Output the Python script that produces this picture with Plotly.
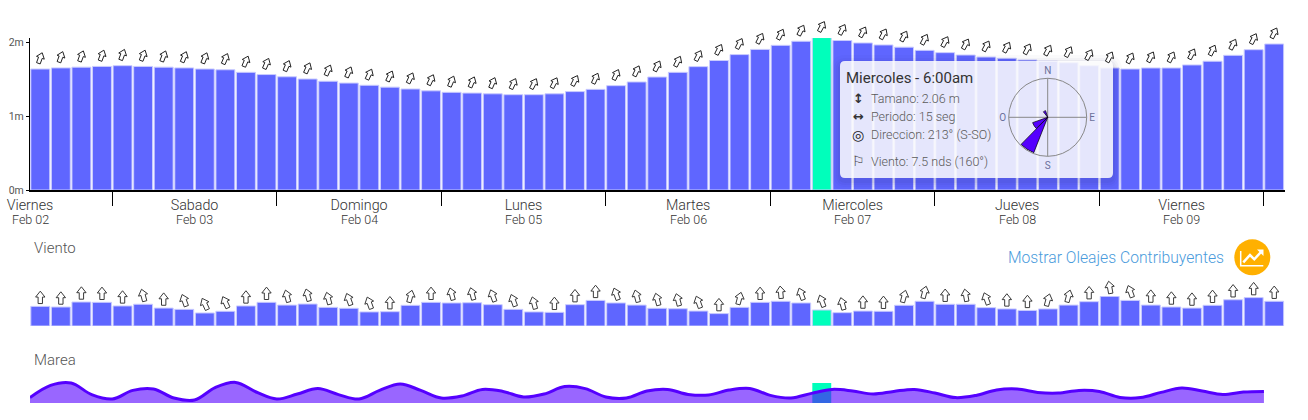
import math
import plotly.graph_objects as go

W, H = 1308, 420
SELECTED = 38
BAR = "#5f66ff"
HIGHLIGHT = "#00ffbb"
TEXT = "#555555"
FONT = "Roboto"

wave_height = [1.635, 1.65, 1.66, 1.67, 1.68, 1.67, 1.66, 1.65, 1.635, 1.625,
               1.59, 1.56, 1.53, 1.50, 1.47, 1.445, 1.415, 1.39, 1.365, 1.34,
               1.32, 1.31, 1.30, 1.288, 1.288, 1.30, 1.33, 1.36, 1.41, 1.46,
               1.527, 1.59, 1.667, 1.75, 1.83, 1.90, 1.955, 2.01, 2.06, 2.02,
               1.987, 1.96, 1.93, 1.887, 1.856, 1.824, 1.797, 1.78, 1.757, 1.74,
               1.72, 1.68, 1.649, 1.635, 1.649, 1.649, 1.69, 1.74, 1.82, 1.896,
               1.973]
wave_dir = [200, 200, 200, 200, 200, 201, 201, 202, 202, 203,
            203, 203, 203, 204, 204, 204, 205, 205, 205, 205,
            203, 203, 203, 205, 207, 207, 207, 205, 205, 205,
            207, 207, 207, 207, 207, 207, 207, 207, 208, 208,
            208, 208, 208, 208, 208, 208, 208, 208, 208, 208,
            208, 208, 207, 207, 207, 207, 207, 207, 207, 207,
            207]
wind_speed = [9.2, 8.9, 11.25, 11.1, 9.4, 10.2, 8.4, 7.8, 6.1, 6.9,
              9.4, 11.1, 9.8, 10.3, 8.75, 8.3, 6.6, 6.7, 9.7, 11.1,
              10.8, 10.9, 10.0, 7.8, 6.6, 6.4, 10.0, 12.0, 10.8, 9.8,
              8.3, 8.1, 7.0, 5.8, 8.75, 11.1, 11.6, 10.8, 7.5, 6.25,
              7.0, 6.9, 9.7, 11.6, 10.2, 10.2, 8.6, 8.0, 7.3, 8.0,
              9.8, 11.4, 13.9, 12.0, 9.8, 8.9, 8.4, 9.7, 12.3, 13.3,
              11.6]
wind_dir = [180, 180, 180, 180, 180, 165, 180, 160, 155, 155,
            180, 180, 165, 165, 165, 160, 160, 180, 195, 180,
            165, 165, 160, 160, 165, 180, 180, 180, 160, 165,
            165, 165, 160, 180, 195, 180, 175, 160, 160, 165,
            180, 180, 195, 195, 180, 170, 160, 180, 180, 195,
            195, 180, 170, 160, 180, 180, 180, 180, 180, 180,
            180]
tide = [0.27, 0.88, 1.00, 0.42, 0.20, 0.63, 0.70, 0.25, 0.15, 0.77,
        1.03, 0.55, 0.20, 0.45, 0.72, 0.42, 0.20, 0.63, 0.95, 0.63,
        0.25, 0.35, 0.68, 0.58, 0.30, 0.45, 0.82, 0.72, 0.30, 0.25,
        0.60, 0.68, 0.43, 0.40, 0.65, 0.73, 0.38, 0.25, 0.48, 0.68,
        0.60, 0.45, 0.58, 0.68, 0.50, 0.27, 0.38, 0.65, 0.70, 0.53,
        0.50, 0.63, 0.58, 0.28, 0.27, 0.53, 0.75, 0.60, 0.43, 0.55,
        0.58]
day_names = ["Viernes", "Sabado", "Domingo", "Lunes", "Martes", "Miercoles", "Jueves", "Viernes"]
day_dates = ["Feb 02", "Feb 03", "Feb 04", "Feb 05", "Feb 06", "Feb 07", "Feb 08", "Feb 09"]
day_centers = [-0.5, 7.5, 15.5, 23.5, 31.5, 39.5, 47.5, 55.5]
rose_theta = [213, 238, 332]
rose_width = [23, 25, 20]
rose_r = [38, 16, 7]

idx = list(range(len(wave_height)))
colors = [HIGHLIGHT if i == SELECTED else BAR for i in idx]


def dom(top, bottom):
    return [1 - bottom / H, 1 - top / H]


fig = go.Figure()
edge = dict(color="#c9cbff", width=1)
fig.add_bar(x=idx, y=wave_height, marker=dict(color=colors, line=edge), width=0.92,
            xaxis="x", yaxis="y", hoverinfo="skip")
fig.add_bar(x=idx, y=wind_speed, marker=dict(color=colors, line=edge), width=0.92,
            xaxis="x2", yaxis="y2", hoverinfo="skip")
fig.add_bar(x=[SELECTED], y=[1.0], marker=dict(color=HIGHLIGHT, line=dict(width=0)), width=0.92,
            xaxis="x3", yaxis="y3", hoverinfo="skip")
fig.add_scatter(x=[i - 0.5 for i in idx], y=tide, mode="lines", fill="tozeroy",
                fillcolor="rgba(85,0,255,0.6)", line=dict(color="#5500ff", width=3, shape="spline"),
                xaxis="x3", yaxis="y3", hoverinfo="skip")


def rounded(x0, y0, x1, y1, r):
    return (f"M{x0 + r},{y0} L{x1 - r},{y0} Q{x1},{y0} {x1},{y0 + r} L{x1},{y1 - r} Q{x1},{y1} {x1 - r},{y1} "
            f"L{x0 + r},{y1} Q{x0},{y1} {x0},{y1 - r} L{x0},{y0 + r} Q{x0},{y0} {x0 + r},{y0} Z")


# Tooltip sits in a page-sized helper subplot so the compass can draw over it.
shapes = []
for grow, alpha in [(9, 0.025), (6, 0.03), (4, 0.04), (2, 0.05)]:
    shapes.append(dict(type="path", xref="x4", yref="y4", layer="below", line_width=0,
                       path=rounded(840 - grow, 61 - grow + 3, 1113 + grow, 178 + grow + 3, 6 + grow),
                       fillcolor=f"rgba(30,30,90,{alpha})"))
shapes.append(dict(type="path", xref="x4", yref="y4", layer="below", line_width=0,
                   path=rounded(840, 61, 1113, 178, 5), fillcolor="rgba(255,255,255,0.85)"))
# Button
shapes.append(dict(type="circle", xref="x4", yref="y4", line_width=0, fillcolor="#ffb000",
                   x0=1234.3, x1=1270.3, y0=239.3, y1=275.3))
shapes.append(dict(type="path", xref="x4", yref="y4", line=dict(color="white", width=1.5),
                   path="M1240.7,251 L1240.7,265.7 L1263.3,265.7"))
shapes.append(dict(type="path", xref="x4", yref="y4", line=dict(color="white", width=2.5),
                   path="M1243.3,262.3 L1250,255 L1254.3,259.3 L1261,252"))
shapes.append(dict(type="path", xref="x4", yref="y4", line_width=0, fillcolor="white",
                   path="M1263.5,249.5 L1263.5,256 L1257,249.5 Z"))
for n in ("4", "5", "6"):
    fig.add_scatter(x=[0], y=[0], mode="markers", marker=dict(opacity=0), xaxis="x" + n, yaxis="y" + n,
                    hoverinfo="skip")

fig.add_barpolar(theta=rose_theta, width=rose_width, r=rose_r,
                 marker=dict(color="#5500ff", line=dict(color="black", width=0.7)),
                 subplot="polar", hoverinfo="skip")

# Block arrow glyph: outline in pixels around its centre, pointing up (y is up in pixel-sized shapes).
ARROW_OUTLINE = [(0, 1.0), (0.9, 0.05), (0.42, 0.05), (0.42, -1.0), (-0.42, -1.0), (-0.42, 0.05), (-0.9, 0.05)]


def arrow_shape(xref, yref, x, y, direction, half_w, half_h, lift, color, lw):
    a = math.radians(direction + 180)
    pts = []
    for u, v in ARROW_OUTLINE:
        px, py = u * half_w, v * half_h
        pts.append((px * math.cos(a) + py * math.sin(a), -px * math.sin(a) + py * math.cos(a) + lift))
    path = "M" + " L".join(f"{p:.2f},{q:.2f}" for p, q in pts) + " Z"
    return dict(type="path", xref=xref, yref=yref, xsizemode="pixel", ysizemode="pixel", xanchor=x, yanchor=y,
                path=path, fillcolor="white", line=dict(color=color, width=lw))


# The arrows float above the bars, so they use taller twin axes of the same scale (shapes clip to their subplot).
for i in idx:
    shapes.append(arrow_shape("x5", "y5", i, wave_height[i], wave_dir[i], 4.6, 5.6, 11, "#222222", 1))
    shapes.append(arrow_shape("x6", "y6", i, wind_speed[i], wind_dir[i], 5.2, 6.2, 9, "#3a3a3a", 1))

ann = []


def label(text, x, y, size, color=TEXT, anchor="left", weight=300, family=FONT):
    ann.append(dict(text=text, xref="x4", yref="y4", x=x, y=y, showarrow=False, xanchor=anchor, yanchor="middle",
                    font=dict(family=family, size=size, color=color, weight=weight)))


for c, d in zip(day_centers, day_dates):
    ann.append(dict(text=d, xref="x", yref="y4", x=c, y=219.5, showarrow=False, xanchor="center", yanchor="middle",
                    font=dict(family=FONT, size=12.5, color="#333333", weight=300)))

label("Viento", 31.5, 248, 15)
label("Marea", 31.5, 360, 15)
label("Mostrar Oleajes Contribuyentes", 1005.5, 257.5, 15.7, color="#4a9bdc")
label("Miercoles - 6:00am", 844, 77.5, 15, color="#333333", weight=400)
label("Tamano: 2.06 m", 869, 98.5, 12.5, color="#5a5a5a")
label("Periodo: 15 seg", 869, 116.5, 12.5, color="#5a5a5a")
label("Direccion: 213° (S-SO)", 869, 134.5, 12.5, color="#5a5a5a")
label("Viento: 7.5 nds (160°)", 869, 161, 12.5, color="#5a5a5a")
label("↕", 858, 98.5, 13, color="#333333", anchor="center", weight=700, family="DejaVu Sans")
label("↔", 858, 116.5, 13, color="#333333", anchor="center", weight=700, family="DejaVu Sans")
label("◎", 858, 134.5, 14, color="#222222", anchor="center", weight=700, family="DejaVu Sans")
label("⚐", 858, 161, 14, color="#444444", anchor="center", family="DejaVu Sans")

xdom = [30 / W, 1284.5 / W]
xrange_ = [-0.5, 60.5]
WAVE_TOP = 2.054
WIND_TOP = 14.06
fig.update_layout(
    width=W, height=H, margin=dict(l=0, r=0, t=0, b=0, autoexpand=False), paper_bgcolor="white",
    plot_bgcolor="rgba(0,0,0,0)",
    showlegend=False, barmode="overlay", font=dict(family=FONT, color=TEXT),
    shapes=shapes, annotations=ann,
    xaxis=dict(domain=xdom, range=xrange_, tickmode="array", tickvals=day_centers, ticktext=day_names,
               ticks="outside", ticklen=0, ticklabelstandoff=1, showgrid=False, zeroline=False,
               showline=True, linecolor="black", linewidth=1.5, anchor="y", automargin=False,
               tickfont=dict(family=FONT, size=14.3, color="#333333", weight=300),
               minor=dict(tick0=3.5, dtick=8, ticks="outside", ticklen=14, tickcolor="black", tickwidth=1.2,
                          showgrid=False)),
    yaxis=dict(domain=dom(38, 190), range=[0, WAVE_TOP], tickmode="array", tickvals=[0, 1, 2],
               ticktext=["0m", "1m", "2m"], ticks="outside", ticklen=3, tickcolor="black", showgrid=False,
               zeroline=False, showline=True, linecolor="black", linewidth=1.2, anchor="x", automargin=False,
               tickfont=dict(family=FONT, size=10.5, color="#555555")),
    xaxis2=dict(domain=xdom, range=xrange_, visible=False, anchor="y2"),
    yaxis2=dict(domain=dom(296, 326), range=[0, WIND_TOP], visible=False, anchor="x2"),
    xaxis3=dict(domain=xdom, range=xrange_, visible=False, anchor="y3"),
    yaxis3=dict(domain=dom(375, 403), range=[0, 1.4], visible=False, anchor="x3"),
    xaxis4=dict(domain=[0, 1], range=[0, W], visible=False, anchor="y4"),
    yaxis4=dict(domain=[0, 1], range=[H, 0], visible=False, anchor="x4"),
    xaxis5=dict(domain=xdom, range=xrange_, visible=False, anchor="y5"),
    yaxis5=dict(domain=dom(10, 190), range=[0, WAVE_TOP * 180 / 152], visible=False, anchor="x5"),
    xaxis6=dict(domain=xdom, range=xrange_, visible=False, anchor="y6"),
    yaxis6=dict(domain=dom(266, 326), range=[0, WIND_TOP * 60 / 30], visible=False, anchor="x6"),
    polar=dict(domain=dict(x=[1008.7 / W, 1086.7 / W], y=dom(78.3, 156.3)), bgcolor="rgba(0,0,0,0)",
               radialaxis=dict(visible=False, range=[0, 39]),
               angularaxis=dict(rotation=90, direction="clockwise", tickmode="array",
                                tickvals=[0, 90, 180, 270], ticktext=["N", "E", "S", "O"],
                                ticks="", tickfont=dict(family=FONT, size=10, color="#6a6f9a"),
                                showline=True, linecolor="#888888", linewidth=1,
                                showgrid=True, gridcolor="#888888", gridwidth=1)),
)
fig.write_html("out.html", config=dict(displayModeBar=False),
               post_script="document.body.style.margin='0';document.body.style.overflow='hidden';")
